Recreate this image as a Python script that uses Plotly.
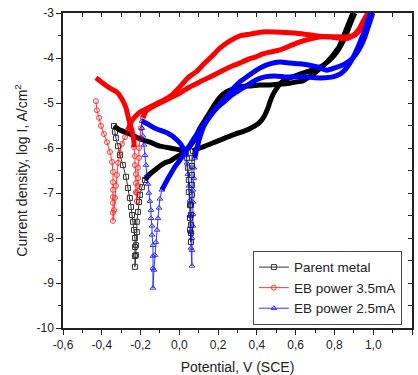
import plotly.graph_objects as go

# ---------------- axis ticks ----------------
x_tickvals = [-0.6, -0.4, -0.2, 0.0, 0.2, 0.4, 0.6, 0.8, 1.0, 1.2]
x_ticktext = ["-0,6", "-0,4", "-0,2", "0,0", "0,2", "0,4", "0,6", "0,8", "1,0", "1,2"]
y_tickvals = [-10, -9, -8, -7, -6, -5, -4, -3]
y_ticktext = ["-10", "-9", "-8", "-7", "-6", "-5", "-4", "-3"]

# ---------------- Parent metal (black) ----------------
bk_dip1_v = [-0.337, -0.332, -0.327, -0.316, -0.306, -0.291, -0.275, -0.265, -0.255, -0.249, -0.244, -0.239, -0.234,
             -0.229, -0.229, -0.229, -0.229, -0.224, -0.224, -0.219, -0.219, -0.213, -0.208, -0.203, -0.193, -0.177]
bk_dip1_i = [-5.51, -5.64, -5.78, -5.96, -6.16, -6.38, -6.64, -6.89, -7.11, -7.31, -7.49, -7.64, -7.82,
             -8.00, -8.20, -8.40, -8.64, -8.38, -8.16, -7.87, -7.64, -7.42, -7.20, -7.04, -6.87, -6.71]
bk_fwd_v = [-0.177, -0.152, -0.126, -0.100, -0.074, -0.048, -0.023, 0.003, 0.029, 0.055, 0.080, 0.106, 0.132, 0.158,
            0.184, 0.209, 0.240, 0.276, 0.312, 0.364, 0.415, 0.467, 0.519, 0.570, 0.606, 0.637, 0.663, 0.699, 0.735,
            0.766, 0.797, 0.823, 0.843, 0.864, 0.885, 0.895]
bk_fwd_i = [-6.71, -6.58, -6.49, -6.40, -6.33, -6.29, -6.22, -6.16, -6.07, -5.96, -5.80, -5.56, -5.38, -5.20,
            -5.02, -4.87, -4.76, -4.69, -4.64, -4.62, -4.60, -4.60, -4.58, -4.56, -4.53, -4.51, -4.44, -4.33, -4.20,
            -4.07, -3.91, -3.76, -3.56, -3.33, -3.11, -3.00]
bk_rev_v = [0.905, 0.879, 0.864, 0.843, 0.812, 0.776, 0.735, 0.684, 0.622, 0.570, 0.529, 0.503, 0.482, 0.467, 0.457,
            0.441, 0.421, 0.390, 0.338, 0.287, 0.235, 0.184, 0.132, 0.091, 0.070]
bk_rev_i = [-3.00, -3.27, -3.44, -3.64, -3.87, -4.04, -4.18, -4.27, -4.36, -4.44, -4.53, -4.67, -4.82, -4.98, -5.11,
            -5.27, -5.40, -5.51, -5.62, -5.69, -5.78, -5.87, -5.96, -6.02, -6.07]
bk_dip2_v = [0.070, 0.065, 0.065, 0.065, 0.065, 0.065, 0.060, 0.060, 0.060, 0.060, 0.060, 0.055, 0.055, 0.055,
             0.049, 0.049, 0.044, 0.039, 0.034]
bk_dip2_i = [-6.07, -6.22, -6.40, -6.60, -6.82, -7.04, -7.27, -7.49, -7.71, -7.89, -8.09, -7.82, -7.56, -7.27,
             -6.98, -6.71, -6.44, -6.22, -6.09]
bk_cat_v = [0.034, 0.003, -0.023, -0.048, -0.074, -0.100, -0.152, -0.203, -0.255, -0.306, -0.337]
bk_cat_i = [-6.09, -6.04, -6.02, -6.00, -5.98, -5.96, -5.87, -5.80, -5.69, -5.60, -5.51]

# ---------------- EB power 3.5mA (red) ----------------
rd_dip1_v = [-0.430, -0.425, -0.414, -0.404, -0.389, -0.373, -0.358, -0.347, -0.342, -0.342, -0.342, -0.342, -0.342,
             -0.342, -0.342, -0.337, -0.332, -0.327, -0.322, -0.316, -0.306, -0.296, -0.280, -0.265]
rd_dip1_i = [-4.96, -5.16, -5.33, -5.51, -5.69, -5.87, -6.09, -6.31, -6.53, -6.76, -6.93, -7.09, -7.22,
             -7.44, -7.62, -7.38, -7.11, -6.84, -6.60, -6.33, -6.11, -5.91, -5.76, -5.60]
rd_fwd_v = [-0.265, -0.249, -0.229, -0.203, -0.162, -0.121, -0.079, -0.038, 0.003, 0.044, 0.086, 0.127, 0.168, 0.209,
            0.261, 0.312, 0.364, 0.426, 0.493, 0.570, 0.647, 0.714, 0.776, 0.828, 0.869, 0.900, 0.926, 0.946, 0.972]
rd_fwd_i = [-5.60, -5.42, -5.31, -5.20, -5.11, -5.02, -4.93, -4.82, -4.64, -4.44, -4.31, -4.13, -3.96, -3.78,
            -3.62, -3.51, -3.47, -3.42, -3.42, -3.44, -3.47, -3.51, -3.53, -3.56, -3.56, -3.49, -3.36, -3.20, -3.00]
rd_rev_v = [0.982, 0.957, 0.931, 0.905, 0.869, 0.828, 0.776, 0.735, 0.689, 0.622, 0.570, 0.519, 0.467, 0.431, 0.390,
            0.348, 0.302, 0.261, 0.209, 0.158, 0.106, 0.055, 0.003, -0.048, -0.100, -0.141, -0.172, -0.188]
rd_rev_i = [-3.00, -3.20, -3.38, -3.49, -3.53, -3.53, -3.53, -3.53, -3.56, -3.64, -3.73, -3.82, -3.87, -3.91, -3.98,
            -4.04, -4.13, -4.20, -4.31, -4.42, -4.53, -4.64, -4.78, -4.89, -5.00, -5.09, -5.18, -5.33]
rd_dip2_v = [-0.188, -0.198, -0.203, -0.208, -0.208, -0.213, -0.213, -0.213, -0.219, -0.219, -0.224, -0.224, -0.224,
             -0.229, -0.229, -0.234]
rd_dip2_i = [-5.33, -5.56, -5.78, -6.00, -6.22, -6.44, -6.67, -6.84, -7.00, -7.18, -6.98, -6.78, -6.58,
             -6.38, -6.18, -5.98]
rd_cat_v = [-0.234, -0.234, -0.244, -0.260, -0.275, -0.296, -0.322, -0.358, -0.394, -0.430]
rd_cat_i = [-5.98, -5.87, -5.62, -5.38, -5.11, -4.91, -4.76, -4.67, -4.56, -4.44]

# ---------------- EB power 2.5mA (blue) ----------------
bl_dip1_v = [-0.193, -0.193, -0.188, -0.182, -0.177, -0.172, -0.167, -0.162, -0.157, -0.152, -0.146, -0.146, -0.141,
             -0.141, -0.136, -0.136, -0.136, -0.136, -0.131, -0.126, -0.121, -0.115, -0.110, -0.105, -0.100, -0.090]
bl_dip1_i = [-5.40, -5.56, -5.73, -5.93, -6.16, -6.38, -6.60, -6.80, -7.00, -7.18, -7.38, -7.56, -7.73,
             -7.93, -8.16, -8.40, -8.67, -9.11, -8.71, -8.38, -8.09, -7.82, -7.56, -7.33, -7.13, -6.93]
bl_fwd_v = [-0.090, -0.069, -0.048, -0.023, 0.003, 0.029, 0.055, 0.080, 0.106, 0.137, 0.168, 0.199, 0.235, 0.271,
            0.312, 0.354, 0.395, 0.441, 0.493, 0.544, 0.596, 0.647, 0.699, 0.751, 0.792, 0.828, 0.859, 0.890, 0.915,
            0.936, 0.957, 0.972, 0.988]
bl_fwd_i = [-6.93, -6.76, -6.60, -6.42, -6.27, -6.09, -5.93, -5.76, -5.60, -5.42, -5.24, -5.09, -4.96, -4.82,
            -4.71, -4.60, -4.49, -4.42, -4.40, -4.42, -4.42, -4.42, -4.44, -4.44, -4.42, -4.36, -4.24, -4.04, -3.82,
            -3.60, -3.38, -3.16, -3.00]
bl_rev_v = [0.998, 0.977, 0.957, 0.931, 0.895, 0.854, 0.802, 0.761, 0.714, 0.673, 0.622, 0.570, 0.519, 0.467, 0.426,
            0.390, 0.354, 0.312, 0.271, 0.235, 0.199, 0.158, 0.127, 0.106, 0.091, 0.080]
bl_rev_i = [-3.00, -3.27, -3.53, -3.78, -4.00, -4.13, -4.22, -4.27, -4.20, -4.16, -4.13, -4.11, -4.09, -4.13, -4.20,
            -4.29, -4.40, -4.53, -4.71, -4.91, -5.07, -5.29, -5.51, -5.76, -6.00, -6.22]
bl_dip2_v = [0.080, 0.075, 0.075, 0.070, 0.070, 0.070, 0.070, 0.065, 0.065, 0.065, 0.060, 0.060, 0.055, 0.055,
             0.049, 0.044, 0.039, 0.034]
bl_dip2_i = [-6.22, -6.44, -6.67, -6.93, -7.20, -7.47, -7.73, -8.00, -8.27, -8.62, -8.22, -7.87, -7.49, -7.16,
             -6.84, -6.58, -6.33, -6.16]
bl_cat_v = [0.034, 0.019, 0.003, -0.018, -0.038, -0.059, -0.090, -0.126, -0.162, -0.193]
bl_cat_i = [-6.16, -6.00, -5.89, -5.80, -5.73, -5.67, -5.62, -5.56, -5.47, -5.40]

series = [
    dict(name="Parent metal", color="#000000", symbol="square-open",
         dense=[(bk_fwd_v, bk_fwd_i), (bk_rev_v, bk_rev_i), (bk_cat_v, bk_cat_i)],
         dips=[(bk_dip1_v, bk_dip1_i), (bk_dip2_v, bk_dip2_i)]),
    dict(name="EB power 3.5mA", color="#FF0000", symbol="circle-open",
         dense=[(rd_fwd_v, rd_fwd_i), (rd_rev_v, rd_rev_i), (rd_cat_v, rd_cat_i)],
         dips=[(rd_dip1_v, rd_dip1_i), (rd_dip2_v, rd_dip2_i)]),
    dict(name="EB power 2.5mA", color="#0000FF", symbol="triangle-up-open",
         dense=[(bl_fwd_v, bl_fwd_i), (bl_rev_v, bl_rev_i), (bl_cat_v, bl_cat_i)],
         dips=[(bl_dip1_v, bl_dip1_i), (bl_dip2_v, bl_dip2_i)]),
]

fig = go.Figure()
for s in series:
    for k, (vx, vy) in enumerate(s["dips"]):
        fig.add_trace(go.Scatter(
            x=vx, y=vy, mode="lines+markers", name=s["name"], legendgroup=s["name"],
            showlegend=(k == 0),
            line=dict(color=s["color"], width=1),
            marker=dict(symbol=s["symbol"], size=5, color=s["color"], line=dict(width=1, color=s["color"])),
            opacity=0.8))
    for vx, vy in s["dense"]:
        fig.add_trace(go.Scatter(
            x=vx, y=vy, mode="lines", legendgroup=s["name"], showlegend=False,
            line=dict(color=s["color"], width=5, shape="spline", smoothing=0.6), hoverinfo="skip"))

# empty trace so the mirrored top/right frame axes get drawn
fig.add_trace(go.Scatter(x=[None], y=[None], xaxis="x2", yaxis="y2", mode="lines",
                         showlegend=False, hoverinfo="skip"))

font_family = "Liberation Sans, Arial, sans-serif"
axis_col = "#222222"

fig.update_layout(
    width=418, height=375,
    margin=dict(l=63, r=6, t=13, b=47),
    paper_bgcolor="white", plot_bgcolor="white",
    font=dict(family=font_family, size=12, color=axis_col),
    showlegend=True,
    legend=dict(x=0.971, y=0.245, xanchor="right", yanchor="top",
                bgcolor="white", bordercolor="#444444", borderwidth=1,
                font=dict(size=13.5, color=axis_col), tracegroupgap=0,
                itemwidth=30),
    xaxis=dict(range=[-0.6, 1.2], tickmode="array", tickvals=x_tickvals, ticktext=x_ticktext,
               ticks="outside", ticklen=5, tickcolor=axis_col, showline=True, linecolor=axis_col, linewidth=1.5,
               showgrid=False, zeroline=False, tickfont=dict(size=12), automargin=False,
               minor=dict(dtick=0.1, tick0=-0.6, ticks="outside", ticklen=3, tickcolor=axis_col),
               title=dict(text="Potential, V (SCE)", font=dict(size=14), standoff=16)),
    yaxis=dict(range=[-10, -3], tickmode="array", tickvals=y_tickvals, ticktext=y_ticktext,
               ticks="outside", ticklen=5, tickcolor=axis_col, showline=True, linecolor=axis_col, linewidth=1.5,
               showgrid=False, zeroline=False, tickfont=dict(size=12), automargin=False,
               minor=dict(dtick=0.5, tick0=-10, ticks="outside", ticklen=3, tickcolor=axis_col),
               title=dict(text="Current density, log I, A/cm<sup>2</sup>", font=dict(size=14), standoff=6)),
    xaxis2=dict(range=[-0.6, 1.2], overlaying="x", side="top", anchor="y2", dtick=0.1, tick0=-0.6,
                ticks="inside", ticklen=4, tickcolor=axis_col, showticklabels=False, showline=True,
                linecolor=axis_col, linewidth=1.5, showgrid=False, zeroline=False, automargin=False),
    yaxis2=dict(range=[-10, -3], overlaying="y", side="right", anchor="x2", dtick=0.5, tick0=-10,
                ticks="inside", ticklen=4, tickcolor=axis_col, showticklabels=False, showline=True,
                linecolor=axis_col, linewidth=1.5, showgrid=False, zeroline=False, automargin=False),
)

fig.write_html("out.html", config={"displayModeBar": False},
               post_script="document.body.style.margin='0';document.body.style.padding='0';")
